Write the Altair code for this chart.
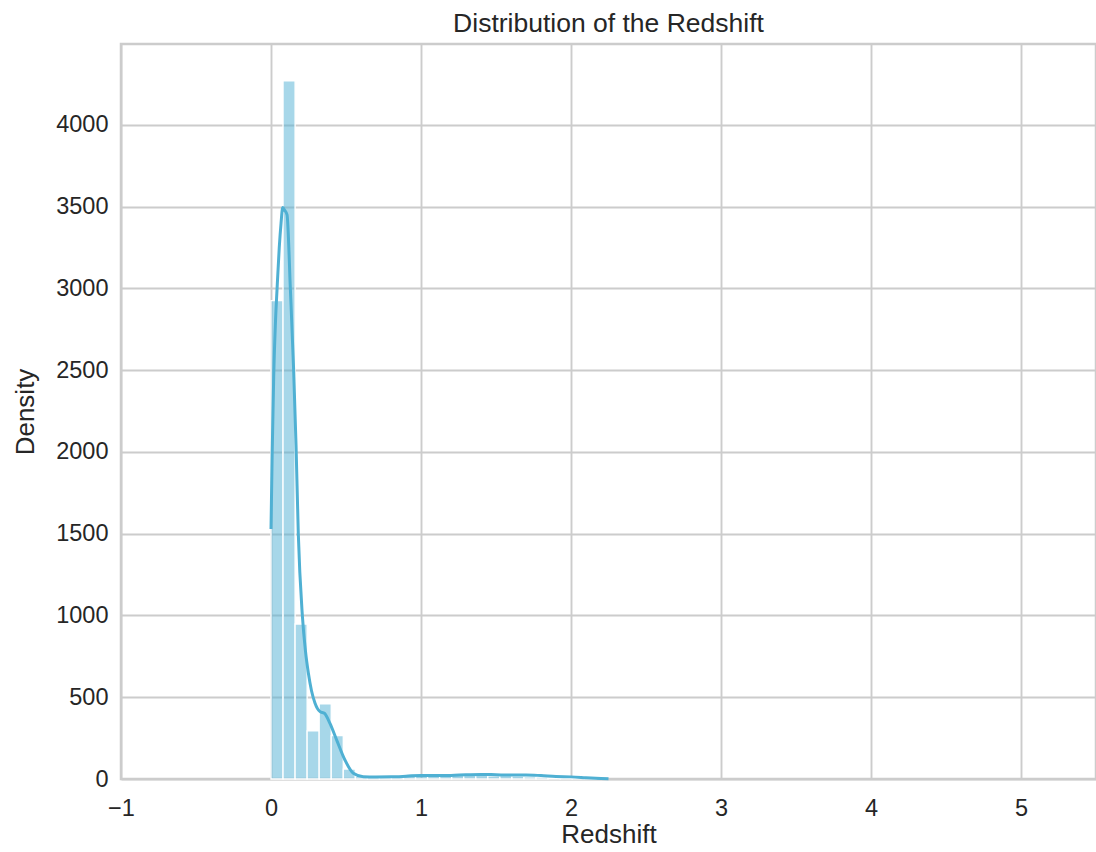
import altair as alt
import pandas as pd

# Histogram (counts per bin), bins start at 0 with fixed width
BIN_WIDTH = 0.0803
bin_counts = [2925, 4269, 948, 294, 459, 265, 61,
              14, 10, 12, 15, 18, 17, 18, 20, 23, 24, 22, 20, 21, 18, 13, 11, 7, 4, 2, 1]

# KDE curve (scaled to counts)
kde_x = [0.0, 0.008, 0.018, 0.03, 0.04, 0.055, 0.067, 0.078, 0.09, 0.107, 0.129, 0.151,
         0.167, 0.182, 0.209, 0.23, 0.249, 0.27, 0.293, 0.327, 0.356, 0.393, 0.438,
         0.493, 0.549, 0.615, 0.7, 0.8, 0.9, 1.0, 1.1, 1.2, 1.3, 1.4, 1.5, 1.6, 1.7,
         1.8, 1.9, 2.0, 2.1, 2.2, 2.25]
kde_y = [1529, 2000, 2460, 2800, 2990, 3250, 3400, 3495, 3480, 3450, 3000, 2500,
         2040, 1500, 1000, 780, 648, 540, 465, 412, 402, 340, 238,
         116, 35, 14, 12, 13, 17, 22, 21, 22, 26, 28, 26, 24, 25,
         21, 15, 13, 8, 3, 1]

x_ticks = [-1, 0, 1, 2, 3, 4, 5]
y_ticks = [0, 500, 1000, 1500, 2000, 2500, 3000, 3500, 4000]

bars = pd.DataFrame({
    "start": [i * BIN_WIDTH for i in range(len(bin_counts))],
    "count": bin_counts,
})
bars["end"] = bars["start"] + BIN_WIDTH
kde = pd.DataFrame({"x": kde_x, "y": kde_y})

FONT = "Liberation Sans"
TXT = "#262626"
COLOR = "#4fb0d3"

xscale = alt.Scale(domain=[-1, 5.5], nice=False, zero=False)
yscale = alt.Scale(domain=[0, 4495], nice=False)

xaxis = alt.Axis(values=x_ticks, title="Redshift", format="d", labelFlush=False)
yaxis = alt.Axis(values=y_ticks, title="Density", format="d", labelFlush=False)

bar_layer = alt.Chart(bars).mark_rect(
    fill=COLOR, fillOpacity=0.5, stroke="white", strokeWidth=1.3
).encode(
    x=alt.X("start:Q", scale=xscale, axis=xaxis),
    x2="end:Q",
    y=alt.Y("count:Q", scale=yscale, axis=yaxis),
    y2=alt.datum(0),
)

line_layer = alt.Chart(kde).mark_line(
    color=COLOR, strokeWidth=3, interpolate="monotone"
).encode(
    x=alt.X("x:Q", scale=xscale),
    y=alt.Y("y:Q", scale=yscale),
)

chart = alt.layer(bar_layer, line_layer).properties(
    width=975,
    height=735,
    title=alt.TitleParams("Distribution of the Redshift", fontSize=26.5, font=FONT,
                          fontWeight="normal", color=TXT, offset=7),
    autosize=alt.AutoSizeParams(type="none"),
    padding={"left": 121, "top": 44, "right": 0, "bottom": 73},
).configure_view(
    stroke="#cccccc", strokeWidth=2.5
).configure_axis(
    grid=True, gridColor="#cccccc", gridWidth=1.9, domain=False, ticks=False,
    labelFont=FONT, labelFontSize=23.5, labelColor=TXT,
    titleFont=FONT, titleFontSize=26, titleFontWeight="normal", titleColor=TXT,
).configure_axisX(
    labelPadding=17, titlePadding=2,
).configure_axisY(
    labelPadding=13, titlePadding=17,
)

chart.save("out.html", embed_options={"renderer": "svg", "actions": False})
